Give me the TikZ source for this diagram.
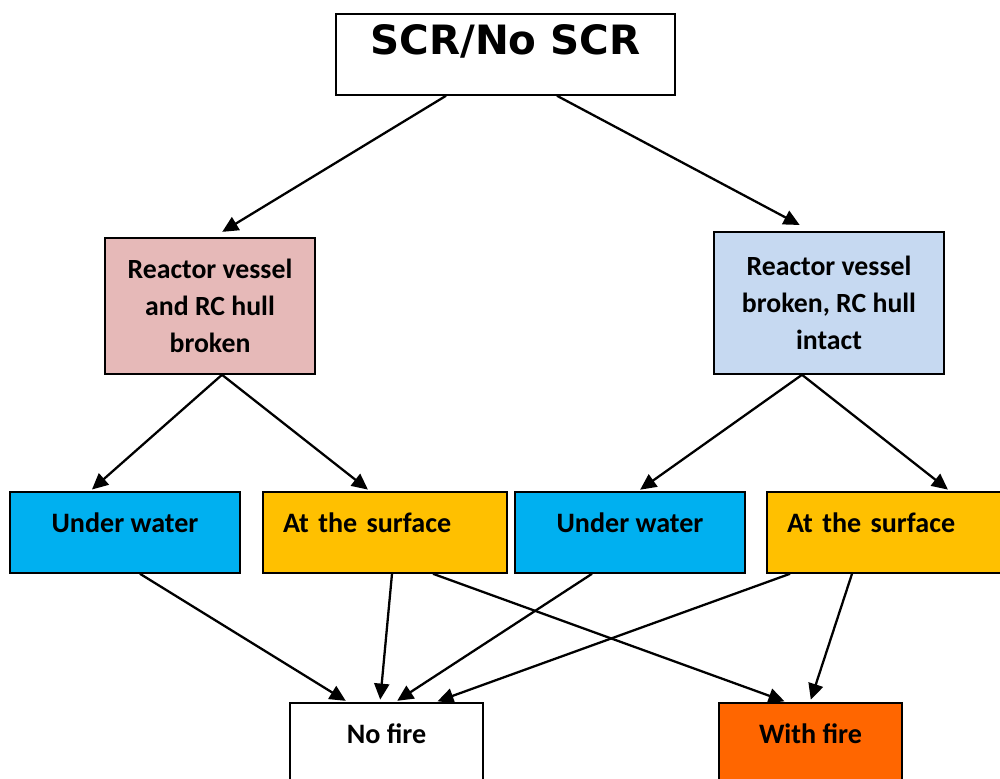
\documentclass[tikz,border=0pt]{standalone}
\usepackage{fontspec}
\setmainfont{Carlito}
\newfontfamily\titlefont{DejaVu Sans}
\definecolor{rosy}{HTML}{E6B9B8}
\definecolor{pale}{HTML}{C6D9F1}
\definecolor{water}{HTML}{00B0F0}
\definecolor{gold}{HTML}{FFC000}
\definecolor{flame}{HTML}{FF6600}
\usetikzlibrary{arrows.meta,positioning,calc}
\tikzset{
  box/.style={draw=black,line width=0.9pt,align=center,inner sep=0pt,
              font=\bfseries\fontsize{16}{19}\selectfont,
              minimum height=1.62cm,text height=10pt,text depth=10pt},
  tall/.style={box,font=\bfseries\fontsize{15.8}{21}\selectfont,
               text height=,text depth=},
  lbox/.style={box,align=left,text width=4.08cm,inner xsep=0.4cm},
  arr/.style={-{Triangle[length=3.2mm,width=3mm]},line width=1.3pt,shorten >=1.5pt}
}
\begin{document}
\begin{tikzpicture}[x=0.02cm,y=-0.02cm]
  \useasboundingbox (0,0) rectangle (1000,778);
  % top question
  \node[box,fill=white,minimum width=6.78cm,font=\titlefont\bfseries\fontsize{23}{27}\selectfont,
        text height=16pt,text depth=16pt] (scr) at (505.5,54.5) {SCR/No SCR};
  % damage states
  \node[tall,fill=rosy,minimum width=4.2cm,minimum height=2.72cm] (pink) at (210,306)
    {Reactor vessel\\and RC hull\\broken};
  \node[tall,fill=pale,minimum width=4.6cm,minimum height=2.84cm] (blue) at (829,303)
    {Reactor vessel\\broken, RC hull\\intact};
  % location of the release
  \node[box,fill=water,minimum width=4.6cm] (uwL) at (125,532.5) {Under water};
  \node[lbox,fill=gold] (atsL) at (385,532.5) {At the surface};
  \node[box,fill=water,minimum width=4.6cm] (uwR) at (630,532.5) {Under water};
  \node[lbox,fill=gold] (atsR) at (889,532.5) {At the surface};
  % outcome
  \node[box,fill=white,minimum width=3.86cm] (nofire) at (386.5,743.5) {No fire};
  \node[box,fill=flame,minimum width=3.66cm] (withfire) at (810.5,743.5) {With fire};

  \draw[arr] ($(scr.south)+(-59.5,0)$) -- ($(pink.north)+(10,-4)$);
  \draw[arr] ($(scr.south)+(51.5,0)$) -- ($(blue.north)+(-27,-5)$);
  \draw[arr] ($(pink.south)+(12,0)$) -- ($(uwL.north)+(-35,0)$);
  \draw[arr] ($(pink.south)+(12,0)$) -- ($(atsL.north)+(-15,0)$);
  \draw[arr] ($(blue.south)+(-27,0)$) -- ($(uwR.north)+(8,0)$);
  \draw[arr] ($(blue.south)+(-27,0)$) -- ($(atsR.north)+(61,0)$);
  \draw[arr] ($(uwL.south)+(15,0)$) -- ($(nofire.north)+(-38.5,0)$);
  \draw[arr] ($(atsL.south)+(7,0)$) -- ($(nofire.north)+(-6.5,0)$);
  \draw[arr] ($(atsL.south)+(48,0)$) -- ($(withfire.north)+(-23.5,0)$);
  \draw[arr] ($(uwR.south)+(-38,0)$) -- ($(nofire.north)+(8.5,0)$);
  \draw[arr] ($(atsR.south)+(-99,0)$) -- ($(nofire.north)+(48.5,0)$);
  \draw[arr] ($(atsR.south)+(-37,0)$) -- ($(withfire.north)+(-0.5,0)$);
\end{tikzpicture}
\end{document}
